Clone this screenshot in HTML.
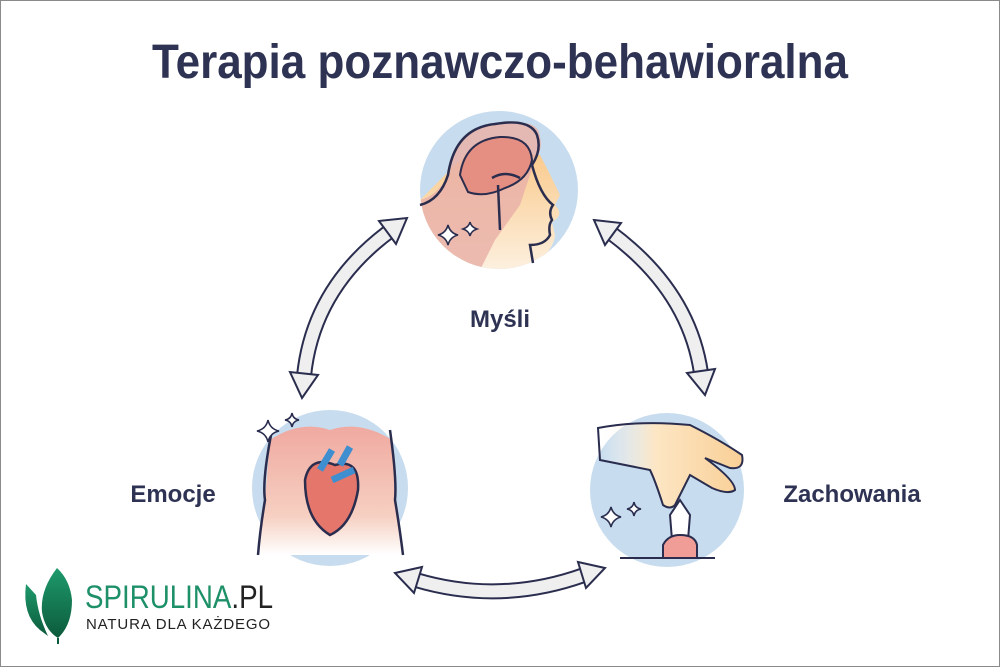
<!DOCTYPE html>
<html><head><meta charset="utf-8"><style>
html,body{margin:0;padding:0;background:#fff}
svg{display:block}
text{font-family:"Liberation Sans",sans-serif}
</style></head><body>
<svg width="1000" height="667" viewBox="0 0 1000 667" xmlns="http://www.w3.org/2000/svg">
<defs>
<linearGradient id="skin" x1="0" y1="0" x2="0" y2="1"><stop offset="0" stop-color="#f9c98a"/><stop offset="1" stop-color="#fdf3e6"/></linearGradient>
<linearGradient id="hand" x1="0" y1="0" x2="1" y2="0"><stop offset="0" stop-color="#fff" stop-opacity="0"/><stop offset="0.4" stop-color="#fde6c4"/><stop offset="1" stop-color="#f9cf96"/></linearGradient>
<linearGradient id="body" x1="0" y1="0" x2="0" y2="1"><stop offset="0" stop-color="#f0a9a0"/><stop offset="0.7" stop-color="#f6d0c2"/><stop offset="1" stop-color="#fff"/></linearGradient>
<linearGradient id="leaf" x1="0" y1="0" x2="0" y2="1"><stop offset="0" stop-color="#1e9a6c"/><stop offset="1" stop-color="#0c5a3c"/></linearGradient>
<clipPath id="c1"><circle cx="499" cy="190" r="79"/></clipPath>
</defs>
<rect x="0.5" y="0.5" width="999" height="666" fill="#fff" stroke="#8a8a8a"/>
<text x="500" y="78" text-anchor="middle" font-size="48" font-weight="bold" fill="#2e3354" textLength="696" lengthAdjust="spacingAndGlyphs">Terapia poznawczo-behawioralna</text>

<!-- top circle: head -->
<circle cx="499" cy="190" r="79" fill="#c7dcee"/>
<g clip-path="url(#c1)">
<path d="M420 200 L420 280 L540 280 L540 262 Q555 245 555 235 L552 222 Q565 215 555 205 L560 195 Q548 170 540 155 L470 150 Z" fill="url(#skin)"/>
<path d="M420 200 Q440 195 450 170 Q455 130 490 125 Q530 118 538 130 Q545 148 535 160 L520 205 L495 240 L480 270 L420 270Z" fill="#e9b2a8" opacity="0.85"/>
</g>
<path d="M420 205 Q440 200 448 175 Q455 128 495 124 Q530 118 537 135 Q542 150 532 165" stroke="#2a2d4e" stroke-width="2.5" fill="none"/>
<path d="M460 175 Q465 140 500 137 Q530 136 532 160 Q528 180 505 188 Q485 198 468 192Z" fill="#e58f83" stroke="#2a2d4e" stroke-width="2"/>
<path d="M492 178 Q505 170 520 178 M498 185 L500 230" stroke="#2a2d4e" stroke-width="2.5" fill="none"/>
<path d="M532 165 Q540 195 553 205 Q548 212 552 220 Q548 225 550 235 Q545 245 530 245 L533 263" stroke="#2a2d4e" stroke-width="2.5" fill="none"/>
<path d="M448 225 q2 8 10 10 q-8 2 -10 10 q-2 -8 -10 -10 q8 -2 10 -10Z M470 222 q1 5 7 7 q-6 2 -7 7 q-1 -5 -7 -7 q6 -2 7 -7Z" fill="#fff" stroke="#2a2d4e" stroke-width="1.6"/>

<!-- bottom left: heart -->
<circle cx="330" cy="488" r="78" fill="#c7dcee"/>
<path d="M270 440 Q300 420 330 430 Q360 420 392 440 L395 500 L402 555 L258 555 L265 500Z" fill="url(#body)"/>
<path d="M272 430 Q262 480 265 500 Q260 530 258 555 M390 430 Q397 480 395 500 Q400 530 403 555" stroke="#2a2d4e" stroke-width="2.5" fill="none"/>
<path d="M305 480 Q310 455 335 465 Q360 458 358 490 Q352 525 330 535 Q305 520 305 480Z" fill="#e5766c" stroke="#2a2d4e" stroke-width="2.5"/>
<path d="M320 470 l12 -20 M340 465 l10 -18 M332 480 l22 -10" stroke="#3f8fd0" stroke-width="7"/>
<path d="M268 420 q2 9 11 11 q-9 2 -11 11 q-2 -9 -11 -11 q9 -2 11 -11Z M292 413 q1 6 7 7 q-6 1 -7 7 q-1 -6 -7 -7 q6 -1 7 -7Z" fill="#fff" stroke="#2a2d4e" stroke-width="1.6"/>

<!-- bottom right: hand & chess -->
<circle cx="667" cy="490" r="77" fill="#c7dcee"/>
<path d="M598 428 Q640 420 690 425 Q720 440 742 455 Q745 470 730 468 L705 458 Q735 480 735 490 Q728 495 712 488 L690 475 L675 505 Q670 510 663 505 Q655 480 650 470 L600 460Z" fill="url(#hand)" stroke="#2a2d4e" stroke-width="2"/>
<path d="M680 500 L690 515 L688 540 L672 540 L670 515Z" fill="#fff" stroke="#2a2d4e" stroke-width="2"/>
<path d="M663 545 Q668 535 680 535 Q695 535 697 545 L697 558 L663 558Z" fill="#ef9d96" stroke="#2a2d4e" stroke-width="2"/>
<line x1="620" y1="558" x2="715" y2="558" stroke="#2a2d4e" stroke-width="2"/>
<path d="M611 507 q2 8 10 10 q-8 2 -10 10 q-2 -8 -10 -10 q8 -2 10 -10Z M634 502 q1 6 7 7 q-6 1 -7 7 q-1 -6 -7 -7 q6 -1 7 -7Z" fill="#fff" stroke="#2a2d4e" stroke-width="1.6"/>

<!-- arrows -->
<g fill="none">
<path d="M390 231 Q313 288 304 376" stroke="#2a2d4e" stroke-width="16"/>
<path d="M390 231 Q313 288 304 376" stroke="#efeff0" stroke-width="12"/>
<path d="M611 233 Q689 291 701 373" stroke="#2a2d4e" stroke-width="16"/>
<path d="M611 233 Q689 291 701 373" stroke="#efeff0" stroke-width="12"/>
<path d="M416 580 Q500 605 584 575" stroke="#2a2d4e" stroke-width="16"/>
<path d="M416 580 Q500 605 584 575" stroke="#efeff0" stroke-width="12"/>
</g>
<g fill="#efeff0" stroke="#2a2d4e" stroke-width="2" stroke-linejoin="miter">
<polygon points="407,218 396,244 379,221"/>
<polygon points="302,398 318,375 290,372"/>
<polygon points="594,220 621,223 605,245"/>
<polygon points="705,395 715,369 687,373"/>
<polygon points="395,573 422,567 414,593"/>
<polygon points="605,568 578,562 586,588"/>
</g>

<text x="500" y="327" text-anchor="middle" font-size="24" font-weight="bold" fill="#2e3354">Myśli</text>
<text x="173" y="502" text-anchor="middle" font-size="24" font-weight="bold" fill="#2e3354">Emocje</text>
<text x="852" y="502" text-anchor="middle" font-size="24" font-weight="bold" fill="#2e3354">Zachowania</text>

<!-- logo -->
<path d="M57 568 Q40 590 42 612 Q45 630 58 638 Q72 625 72 600 Q70 580 57 568Z" fill="url(#leaf)"/>
<path d="M26 584 Q22 615 40 630 L48 636 Q38 615 36 595Z" fill="url(#leaf)"/>
<path d="M58 638 L58 644" stroke="#0c5a3c" stroke-width="2"/>
<text x="85" y="608" font-size="32" fill="#1e9068" textLength="188" lengthAdjust="spacingAndGlyphs">SPIRULINA<tspan fill="#222">.PL</tspan></text>
<text x="86" y="629" font-size="15" fill="#222" textLength="186" lengthAdjust="spacing" letter-spacing="2">NATURA DLA KAŻDEGO</text>
</svg>
</body></html>
